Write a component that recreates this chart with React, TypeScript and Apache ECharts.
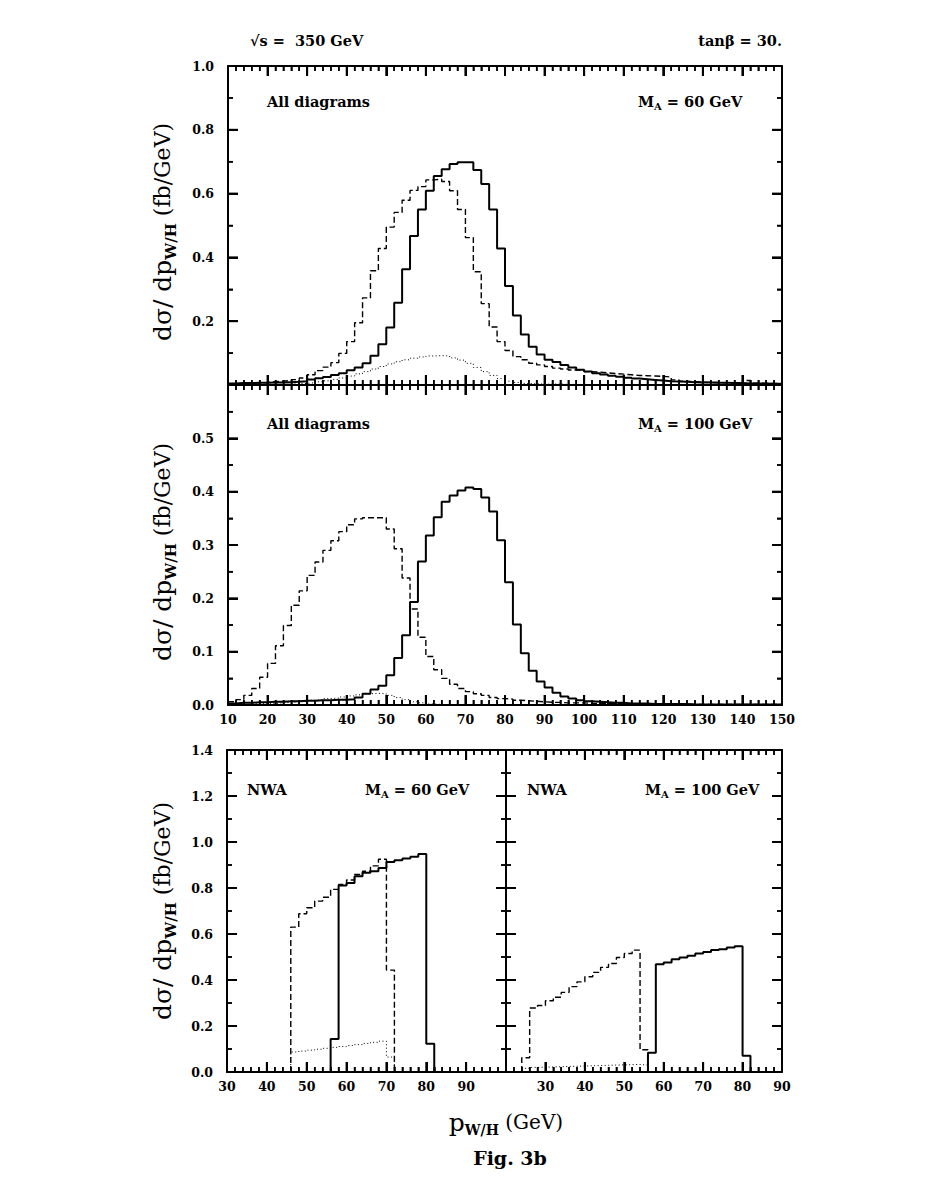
import React, { useEffect, useRef } from "react";
import * as echarts from "echarts";

// ---------------- DATA (histograms, 2 GeV bins; value per bin in fb/GeV) ----------------
const BIN_WIDTH = 2;

// Panel 1: all diagrams, M_A = 60 GeV (bins start at 10 GeV)
const all60Start = 10;
const all60Solid = [
  0.005, 0.006, 0.006, 0.007, 0.007, 0.008, 0.008, 0.009, 0.010, 0.012,
  0.017, 0.021, 0.025, 0.031, 0.037, 0.046, 0.055, 0.068, 0.092, 0.128,
  0.180, 0.258, 0.363, 0.467, 0.550, 0.609, 0.655, 0.676, 0.693, 0.698,
  0.698, 0.674, 0.630, 0.550, 0.428, 0.310, 0.218, 0.158, 0.120, 0.096,
  0.079, 0.072, 0.063, 0.055, 0.048, 0.042, 0.037, 0.033, 0.029, 0.026,
  0.023, 0.020, 0.018, 0.016, 0.014, 0.012, 0.011, 0.010, 0.009, 0.008,
  0.008, 0.007, 0.007, 0.006, 0.006, 0.005, 0.005, 0.005, 0.004, 0.004,
];
const all60Dashed = [
  0.004, 0.005, 0.006, 0.007, 0.008, 0.010, 0.012, 0.014, 0.017, 0.022,
  0.032, 0.045, 0.056, 0.070, 0.099, 0.136, 0.195, 0.273, 0.358, 0.428,
  0.495, 0.541, 0.579, 0.610, 0.622, 0.643, 0.645, 0.638, 0.609, 0.550,
  0.462, 0.355, 0.255, 0.182, 0.136, 0.108, 0.089, 0.079, 0.068, 0.063,
  0.058, 0.053, 0.050, 0.047, 0.045, 0.042, 0.040, 0.038, 0.036, 0.034,
  0.032, 0.030, 0.029, 0.028, 0.027, 0.025, 0.016, 0.012, 0.010, 0.009,
  0.008, 0.008, 0.007, 0.007, 0.006, 0.014, 0.006, 0.005, 0.005, 0.004,
];
const all60Dotted = [
  0.001, 0.001, 0.001, 0.001, 0.002, 0.002, 0.002, 0.003, 0.004, 0.005,
  0.007, 0.010, 0.013, 0.017, 0.022, 0.028, 0.035, 0.042, 0.050, 0.058,
  0.066, 0.073, 0.079, 0.084, 0.088, 0.091, 0.092, 0.091, 0.085, 0.078,
  0.068, 0.055, 0.042, 0.030, 0.020, 0.012, 0.008, 0.005, 0.004, 0.003,
  0.003, 0.003, 0.002, 0.002, 0.002,
];

// Panel 2: all diagrams, M_A = 100 GeV (bins start at 10 GeV)
const all100Start = 10;
const all100Solid = [
  0.003, 0.004, 0.004, 0.005, 0.005, 0.006, 0.006, 0.007, 0.007, 0.008,
  0.008, 0.009, 0.009, 0.010, 0.010, 0.011, 0.014, 0.021, 0.029, 0.036,
  0.056, 0.088, 0.131, 0.193, 0.269, 0.318, 0.352, 0.381, 0.393, 0.402,
  0.408, 0.405, 0.389, 0.363, 0.309, 0.230, 0.151, 0.097, 0.064, 0.044,
  0.033, 0.023, 0.016, 0.012, 0.009, 0.007, 0.006, 0.005, 0.004, 0.004,
  0.003, 0.003, 0.003, 0.002, 0.002, 0.002, 0.002, 0.002, 0.001, 0.001,
  0.001, 0.001, 0.001, 0.001, 0.001, 0.001, 0.001, 0.001, 0.001, 0.001,
];
const all100Dashed = [
  0.006, 0.010, 0.018, 0.031, 0.052, 0.078, 0.111, 0.149, 0.187, 0.214,
  0.243, 0.268, 0.290, 0.308, 0.325, 0.338, 0.349, 0.351, 0.351, 0.351,
  0.330, 0.293, 0.238, 0.180, 0.127, 0.091, 0.066, 0.050, 0.039, 0.031,
  0.025, 0.021, 0.018, 0.014, 0.012, 0.011, 0.009, 0.008, 0.007, 0.006,
  0.005, 0.005, 0.004, 0.004, 0.004, 0.003, 0.003, 0.003, 0.003, 0.002,
  0.002, 0.002, 0.002, 0.002, 0.002, 0.002, 0.002, 0.002, 0.001, 0.001,
  0.001, 0.001, 0.001, 0.001, 0.001, 0.001, 0.001, 0.001, 0.001, 0.001,
];
const all100Dotted = [
  0.001, 0.001, 0.002, 0.002, 0.003, 0.003, 0.004, 0.005, 0.006, 0.007,
  0.009, 0.010, 0.012, 0.013, 0.015, 0.017, 0.019, 0.021, 0.022, 0.021,
  0.018, 0.014, 0.010, 0.006, 0.004, 0.002, 0.001, 0.001, 0.001, 0.001,
];

// Panel 3: NWA, M_A = 60 GeV
const nwa60SolidStart = 56;
const nwa60Solid = [0.144, 0.811, 0.822, 0.851, 0.866, 0.873, 0.887, 0.913, 0.921, 0.928, 0.936, 0.948, 0.123];
const nwa60DashedStart = 46;
const nwa60Dashed = [0.630, 0.688, 0.714, 0.743, 0.760, 0.794, 0.815, 0.835, 0.859, 0.873, 0.896, 0.925, 0.443];
const nwa60DottedStart = 46;
const nwa60Dotted = [0.087, 0.091, 0.095, 0.099, 0.103, 0.107, 0.111, 0.115, 0.119, 0.124, 0.129, 0.134, 0.065];

// Panel 4: NWA, M_A = 100 GeV
const nwa100SolidStart = 56;
const nwa100Solid = [0.084, 0.469, 0.476, 0.490, 0.498, 0.505, 0.515, 0.522, 0.530, 0.534, 0.541, 0.547, 0.071];
const nwa100DashedStart = 24;
const nwa100Dashed = [0.062, 0.278, 0.289, 0.310, 0.325, 0.346, 0.371, 0.392, 0.414, 0.433, 0.455, 0.472, 0.498, 0.515, 0.530, 0.097];
const nwa100DottedStart = 24;
const nwa100Dotted = [0.016, 0.020, 0.021, 0.022, 0.023, 0.024, 0.025, 0.026, 0.027, 0.028, 0.029, 0.030, 0.031, 0.032, 0.033, 0.030];

// Axis ranges
const xRangeAll = [10, 150];
const xRangeNwa60 = [30, 100];
const xRangeNwa100 = [20, 90];
const yRangeTop = [0, 1.0];
const yRangeMid = [0, 0.6];
const yRangeBot = [0, 1.4];

// ---------------- helpers ----------------
function hist(start: number, values: number[], closed: boolean): number[][] {
  const pts: number[][] = [];
  if (closed) pts.push([start, 0]);
  values.forEach((v, i) => pts.push([start + i * BIN_WIDTH, v]));
  const end = start + values.length * BIN_WIDTH;
  pts.push([end, values[values.length - 1]]);
  if (closed) pts.push([end, 0]);
  return pts;
}

const SOLID = { color: "#000", width: 2, type: "solid" as any };
const DASHED = { color: "#000", width: 1.4, type: [6, 3] as any };
const DOTTED = { color: "#000", width: 1, type: [1, 2.5] as any };

function series(data: number[][], lineStyle: any, axisIdx: number) {
  return {
    type: "line",
    step: "end",
    data,
    xAxisIndex: axisIdx,
    yAxisIndex: axisIdx,
    symbol: "none",
    showSymbol: false,
    lineStyle,
    silent: true,
    clip: true,
    z: 3,
  };
}

const MAJOR_TICK = { color: "#000", width: 2 };
const MINOR_TICK = { color: "#000", width: 1.5 };
const LABEL_FONT = {
  fontFamily: "'DejaVu Serif', serif",
  fontWeight: "bold",
  fontSize: 12.5,
  color: "#000",
};

function xAxisDef(grid: number, range: number[], position: string, showLabels: boolean, hide: number[]) {
  return {
    type: "value",
    gridIndex: grid,
    min: range[0],
    max: range[1],
    interval: 10,
    position,
    axisLine: { show: true, onZero: false, lineStyle: { color: "#000", width: 2 } },
    axisTick: { show: true, inside: true, length: 10, lineStyle: MAJOR_TICK },
    minorTick: { show: true, splitNumber: 5, length: 5, lineStyle: MINOR_TICK },
    splitLine: { show: false },
    minorSplitLine: { show: false },
    axisLabel: showLabels
      ? {
          show: true,
          margin: 8,
          ...LABEL_FONT,
          formatter: (v: number) => (hide.some((h) => Math.abs(h - v) < 1e-6) ? "" : String(Math.round(v))),
        }
      : { show: false },
  };
}

function yAxisDef(grid: number, range: number[], interval: number, position: string, showLabels: boolean, hide: number[]) {
  return {
    type: "value",
    gridIndex: grid,
    min: range[0],
    max: range[1],
    interval,
    position,
    axisLine: { show: true, onZero: false, lineStyle: { color: "#000", width: 2 } },
    axisTick: { show: true, inside: true, length: 10, lineStyle: MAJOR_TICK },
    minorTick: { show: true, splitNumber: 2, length: 5, lineStyle: MINOR_TICK },
    splitLine: { show: false },
    minorSplitLine: { show: false },
    axisLabel: showLabels
      ? {
          show: true,
          margin: 14,
          ...LABEL_FONT,
          formatter: (v: number) => (hide.some((h) => Math.abs(h - v) < 1e-6) ? "" : v.toFixed(1)),
        }
      : { show: false },
  };
}

// Frame tick marks drawn by a custom series through the axes' own coordinate mapping
const panelTicks = [
  { idx: 0, xr: xRangeAll, yr: yRangeTop, xMinor: 2, xMajor: 10, yMinor: 0.1, yMajor: 0.2 },
  { idx: 2, xr: xRangeAll, yr: yRangeMid, xMinor: 2, xMajor: 10, yMinor: 0.05, yMajor: 0.1 },
  { idx: 4, xr: xRangeNwa60, yr: yRangeBot, xMinor: 2, xMajor: 10, yMinor: 0.1, yMajor: 0.2 },
  { idx: 6, xr: xRangeNwa100, yr: yRangeBot, xMinor: 2, xMajor: 10, yMinor: 0.1, yMajor: 0.2 },
];

function isMultiple(v: number, step: number) {
  const r = v / step;
  return Math.abs(r - Math.round(r)) < 1e-6;
}

function tickSeries(p: any) {
  // data items: [x, y, orientation(0 = x tick, 1 = y tick), major(0/1)]
  const data: number[][] = [];
  const nx = Math.round((p.xr[1] - p.xr[0]) / p.xMinor);
  for (let k = 1; k < nx; k++) {
    const v = p.xr[0] + k * p.xMinor;
    data.push([v, p.yr[0], 0, isMultiple(v, p.xMajor) ? 1 : 0]);
  }
  const ny = Math.round((p.yr[1] - p.yr[0]) / p.yMinor);
  for (let k = 1; k < ny; k++) {
    const v = p.yr[0] + k * p.yMinor;
    data.push([p.xr[0], v, 1, isMultiple(v, p.yMajor) ? 1 : 0]);
  }
  return {
    type: "custom",
    xAxisIndex: p.idx,
    yAxisIndex: p.idx,
    silent: true,
    clip: false,
    z: 4,
    data,
    encode: { x: 0, y: 1 },
    renderItem: (params: any, api: any) => {
      const orient = api.value(2);
      const major = api.value(3) === 1;
      const len = major ? 10 : 5;
      const lw = major ? 2 : 1.5;
      const st = { stroke: "#000", lineWidth: lw, fill: null };
      if (orient === 0) {
        const v = api.value(0);
        const b = api.coord([v, p.yr[0]]);
        const t = api.coord([v, p.yr[1]]);
        return {
          type: "group",
          children: [
            { type: "line", shape: { x1: b[0], y1: b[1], x2: b[0], y2: b[1] - len }, style: st },
            { type: "line", shape: { x1: t[0], y1: t[1], x2: t[0], y2: t[1] + len }, style: st },
          ],
        };
      }
      const v = api.value(1);
      const l = api.coord([p.xr[0], v]);
      const r = api.coord([p.xr[1], v]);
      return {
        type: "group",
        children: [
          { type: "line", shape: { x1: l[0], y1: l[1], x2: l[0] + len, y2: l[1] }, style: st },
          { type: "line", shape: { x1: r[0], y1: r[1], x2: r[0] - len, y2: r[1] }, style: st },
        ],
      };
    },
  };
}

const SERIF = "'DejaVu Serif', serif";
const annRich = {
  b: { fontFamily: SERIF, fontWeight: "bold", fontSize: 14.5, lineHeight: 20, verticalAlign: "middle" },
  s: { fontFamily: SERIF, fontWeight: "bold", fontSize: 10, lineHeight: 6, verticalAlign: "bottom" },
};

function ann(x: number, y: number, text: string, align: string) {
  return {
    type: "text",
    x,
    y,
    z: 10,
    style: { text, rich: annRich, align, verticalAlign: "middle", fill: "#000" },
  };
}

const yTitleRich = {
  m: { fontFamily: SERIF, fontSize: 25, lineHeight: 32, verticalAlign: "middle" },
  s: { fontFamily: SERIF, fontWeight: "bold", fontSize: 15, lineHeight: 10, verticalAlign: "bottom" },
  u: { fontFamily: SERIF, fontSize: 22, lineHeight: 32, verticalAlign: "middle" },
};

function yTitle(y: number) {
  return {
    type: "text",
    x: 162,
    y,
    rotation: Math.PI / 2,
    z: 10,
    style: {
      text: "{m|dσ/ dp}{s|W/H}{u| (fb/GeV)}",
      rich: yTitleRich,
      align: "center",
      verticalAlign: "middle",
      fill: "#000",
    },
  };
}

function buildOption() {
  return {
    animation: false,
    backgroundColor: "#fff",
    grid: [
      { left: 228, top: 66, width: 554, height: 319 },
      { left: 228, top: 385, width: 554, height: 320 },
      { left: 227, top: 750, width: 279, height: 322 },
      { left: 506, top: 750, width: 276, height: 322 },
    ],
    xAxis: [
      xAxisDef(0, xRangeAll, "bottom", false, []),
      xAxisDef(0, xRangeAll, "top", false, []),
      xAxisDef(1, xRangeAll, "bottom", true, []),
      xAxisDef(1, xRangeAll, "top", false, []),
      xAxisDef(2, xRangeNwa60, "bottom", true, [100]),
      xAxisDef(2, xRangeNwa60, "top", false, []),
      xAxisDef(3, xRangeNwa100, "bottom", true, [20]),
      xAxisDef(3, xRangeNwa100, "top", false, []),
    ],
    yAxis: [
      yAxisDef(0, yRangeTop, 0.2, "left", true, [0]),
      yAxisDef(0, yRangeTop, 0.2, "right", false, []),
      yAxisDef(1, yRangeMid, 0.1, "left", true, [0.6]),
      yAxisDef(1, yRangeMid, 0.1, "right", false, []),
      yAxisDef(2, yRangeBot, 0.2, "left", true, []),
      yAxisDef(2, yRangeBot, 0.2, "right", false, []),
      yAxisDef(3, yRangeBot, 0.2, "left", false, []),
      yAxisDef(3, yRangeBot, 0.2, "right", false, []),
    ],
    series: [
      series(hist(all60Start, all60Solid, false), SOLID, 0),
      series(hist(all60Start, all60Dashed, false), DASHED, 0),
      series(hist(all60Start, all60Dotted, false), DOTTED, 0),
      series(hist(all100Start, all100Solid, false), SOLID, 2),
      series(hist(all100Start, all100Dashed, false), DASHED, 2),
      series(hist(all100Start, all100Dotted, false), DOTTED, 2),
      series(hist(nwa60SolidStart, nwa60Solid, true), SOLID, 4),
      series(hist(nwa60DashedStart, nwa60Dashed, true), DASHED, 4),
      series(hist(nwa60DottedStart, nwa60Dotted, true), DOTTED, 4),
      series(hist(nwa100SolidStart, nwa100Solid, true), SOLID, 6),
      series(hist(nwa100DashedStart, nwa100Dashed, true), DASHED, 6),
      series(hist(nwa100DottedStart, nwa100Dotted, true), DOTTED, 6),
      ...panelTicks.map(tickSeries),
    ],
    graphic: [
      ann(250, 40, "{b|√s =  350 GeV}", "left"),
      ann(782, 40, "{b|tanβ = 30.}", "right"),
      ann(267, 101, "{b|All diagrams}", "left"),
      ann(638, 101, "{b|M}{s|A}{b| = 60 GeV}", "left"),
      ann(267, 423, "{b|All diagrams}", "left"),
      ann(638, 423, "{b|M}{s|A}{b| = 100 GeV}", "left"),
      ann(247, 789, "{b|NWA}", "left"),
      ann(365, 789, "{b|M}{s|A}{b| = 60 GeV}", "left"),
      ann(527, 789, "{b|NWA}", "left"),
      ann(645, 789, "{b|M}{s|A}{b| = 100 GeV}", "left"),
      yTitle(232),
      yTitle(552),
      yTitle(911),
      {
        type: "text",
        x: 506,
        y: 1122,
        z: 10,
        style: {
          text: "{m|p}{s|W/H}{u| (GeV)}",
          rich: {
            m: { fontFamily: SERIF, fontSize: 25, lineHeight: 30, verticalAlign: "middle" },
            s: { fontFamily: SERIF, fontWeight: "bold", fontSize: 14, lineHeight: 10, verticalAlign: "bottom" },
            u: { fontFamily: SERIF, fontSize: 20, lineHeight: 30, verticalAlign: "middle" },
          },
          align: "center",
          verticalAlign: "middle",
          fill: "#000",
        },
      },
      {
        type: "text",
        x: 510,
        y: 1158,
        z: 10,
        style: {
          text: "Fig. 3b",
          fontFamily: SERIF,
          fontWeight: "bold",
          fontSize: 19,
          align: "center",
          verticalAlign: "middle",
          fill: "#000",
        },
      },
    ],
  };
}

export default function App() {
  const ref = useRef<HTMLDivElement>(null);
  useEffect(() => {
    document.body.style.margin = "0";
    const chart = echarts.init(ref.current!, null, { renderer: "svg" });
    chart.setOption(buildOption() as any);
    return () => chart.dispose();
  }, []);
  return (
    <div
      ref={ref}
      style={{ position: "absolute", left: 0, top: 0, width: 927, height: 1199, background: "#fff" }}
    />
  );
}
